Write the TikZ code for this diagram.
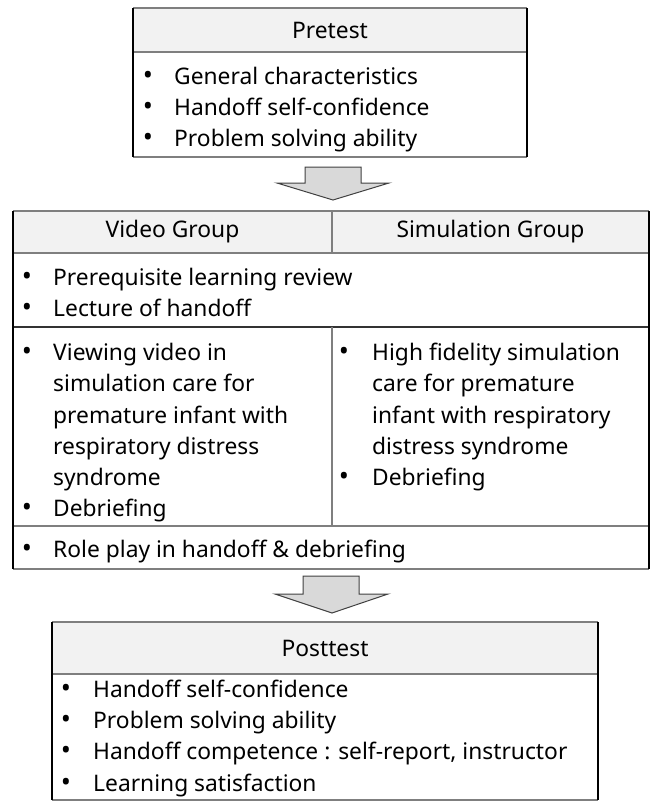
\documentclass[tikz,border=0pt]{standalone}
\usepackage{fontspec}
\setmainfont{Noto Sans}
\usetikzlibrary{calc}
\definecolor{hdrgray}{HTML}{F2F2F2}
\definecolor{linegray}{HTML}{7F7F7F}
\definecolor{arrowfill}{HTML}{D9D9D9}
\definecolor{arrowline}{HTML}{404040}
\begin{document}
\begin{tikzpicture}[x=1pt,y=-1pt,
  box/.style={draw=none, inner sep=0pt, outer sep=0pt, anchor=north west},
  hdr/.style={box, fill=hdrgray, font=\fontsize{22.8}{26}\selectfont},
  bodybox/.style={box, fill=white},
  hline/.style={draw=linegray, line width=1.6pt},
  vline/.style={draw=black, line width=1.2pt},
  ivline/.style={draw=linegray, line width=1.6pt},
  txt/.style={anchor=base west, inner sep=0pt, font=\fontsize{22.8}{26}\selectfont},
  bul/.style={anchor=base, inner sep=0pt, font=\fontsize{27}{26}\selectfont},
  blockarrow/.style={fill=arrowfill, draw=arrowline, line width=1pt, line join=miter}
]
\useasboundingbox (0,0) rectangle (653,803);

% ---------- Pretest ----------
\node[hdr, minimum width=394pt, minimum height=44pt] (prehead) at (133,8) {Pretest};
\node[bodybox, minimum width=394pt, minimum height=105pt] (prebody) at (133,52) {};
\draw[hline] (prehead.north west) -- (prehead.north east);
\draw[hline] (prehead.south west) -- (prehead.south east);
\draw[hline] (prebody.south west) -- (prebody.south east);
\draw[vline] (prehead.north west) -- (prebody.south west);
\draw[vline] (prehead.north east) -- (prebody.south east);

\node[bul] (pb1) at (148,84) {•};
\node[txt] (pt1) at (174,84) {General characteristics};
\node[bul] (pb2) at (148,115) {•};
\node[txt] (pt2) at (174,115) {Handoff self-confidence};
\node[bul] (pb3) at (148,146) {•};
\node[txt] (pt3) at (174,146) {Problem solving ability};

% ---------- arrow 1 ----------
\coordinate (a1) at ($(prebody.south)+(3,10)$);
\draw[blockarrow] ($(a1)+(-28,0)$) -- ($(a1)+(28,0)$) -- ($(a1)+(28,16)$) -- ($(a1)+(56,16)$)
  -- ($(a1)+(0,33)$) -- ($(a1)+(-56,16)$) -- ($(a1)+(-28,16)$) -- cycle;

% ---------- Middle table ----------
\node[hdr, minimum width=319pt, minimum height=42pt] (mhl) at (13,211) {Video Group};
\node[hdr, minimum width=317pt, minimum height=42pt] (mhr) at (332,211) {Simulation Group};
\node[bodybox, minimum width=636pt, minimum height=74pt] (mrow2) at (13,253) {};
\node[bodybox, minimum width=319pt, minimum height=199pt] (mrow3l) at (13,327) {};
\node[bodybox, minimum width=317pt, minimum height=199pt] (mrow3r) at (332,327) {};
\node[bodybox, minimum width=636pt, minimum height=43pt] (mrow4) at (13,526) {};

\draw[hline] (mhl.north west) -- (mhr.north east);
\draw[hline] (mhl.south west) -- (mhr.south east);
\draw[draw=black!80, line width=1.2pt] (mrow2.south west) -- (mrow2.south east);
\draw[hline] (mrow3l.south west) -- (mrow3r.south east);
\draw[hline] (mrow4.south west) -- (mrow4.south east);
\draw[ivline] (mhl.north east) -- (mhl.south east);
\draw[ivline] (mrow3l.north east) -- (mrow3l.south east);
\draw[vline] (mhl.north west) -- (mrow4.south west);
\draw[vline] (mhr.north east) -- (mrow4.south east);

\node[bul] (mb1) at (27,285) {•};
\node[txt] (mt1) at (53,285) {Prerequisite learning review};
\node[bul] (mb2) at (27,316) {•};
\node[txt] (mt2) at (53,316) {Lecture of handoff};

\node[bul] (lb1) at (27,360) {•};
\node[txt] (lt1) at (53,360) {Viewing video in};
\node[txt] (lt2) at (53,391) {simulation care for};
\node[txt] (lt3) at (53,423) {premature infant with};
\node[txt] (lt4) at (53,454) {respiratory distress};
\node[txt] (lt5) at (53,485) {syndrome};
\node[bul] (lb2) at (27,516) {•};
\node[txt] (lt6) at (53,516) {Debriefing};

\node[bul] (rb1) at (344,360) {•};
\node[txt] (rt1) at (372,360) {High fidelity simulation};
\node[txt] (rt2) at (372,391) {care for premature};
\node[txt] (rt3) at (372,423) {infant with respiratory};
\node[txt] (rt4) at (372,454) {distress syndrome};
\node[bul] (rb2) at (344,485) {•};
\node[txt] (rt5) at (372,485) {Debriefing};

\node[bul] (fb1) at (27,557) {•};
\node[txt] (ft1) at (53,557) {Role play in handoff \& debriefing};

% ---------- arrow 2 ----------
\coordinate (a2) at ($(mrow4.south)+(0,7)$);
\draw[blockarrow] ($(a2)+(-28,0)$) -- ($(a2)+(28,0)$) -- ($(a2)+(28,18)$) -- ($(a2)+(57,18)$)
  -- ($(a2)+(1,37)$) -- ($(a2)+(-56,18)$) -- ($(a2)+(-28,18)$) -- cycle;

% ---------- Posttest ----------
\node[hdr, minimum width=546pt, minimum height=52pt] (posthead) at (52,622) {Posttest};
\node[bodybox, minimum width=546pt, minimum height=126pt] (postbody) at (52,674) {};
\draw[hline] (posthead.north west) -- (posthead.north east);
\draw[hline] (posthead.south west) -- (posthead.south east);
\draw[hline] (postbody.south west) -- (postbody.south east);
\draw[vline] (posthead.north west) -- (postbody.south west);
\draw[vline] (posthead.north east) -- (postbody.south east);

\node[bul] (qb1) at (66,697) {•};
\node[txt] (qt1) at (93,697) {Handoff self-confidence};
\node[bul] (qb2) at (66,728) {•};
\node[txt] (qt2) at (93,728) {Problem solving ability};
\node[bul] (qb3) at (66,759) {•};
\node[txt] (qt3) at (93,759) {Handoff competence : self-report, instructor};
\node[bul] (qb4) at (66,791) {•};
\node[txt] (qt4) at (93,791) {Learning satisfaction};
\end{tikzpicture}
\end{document}
